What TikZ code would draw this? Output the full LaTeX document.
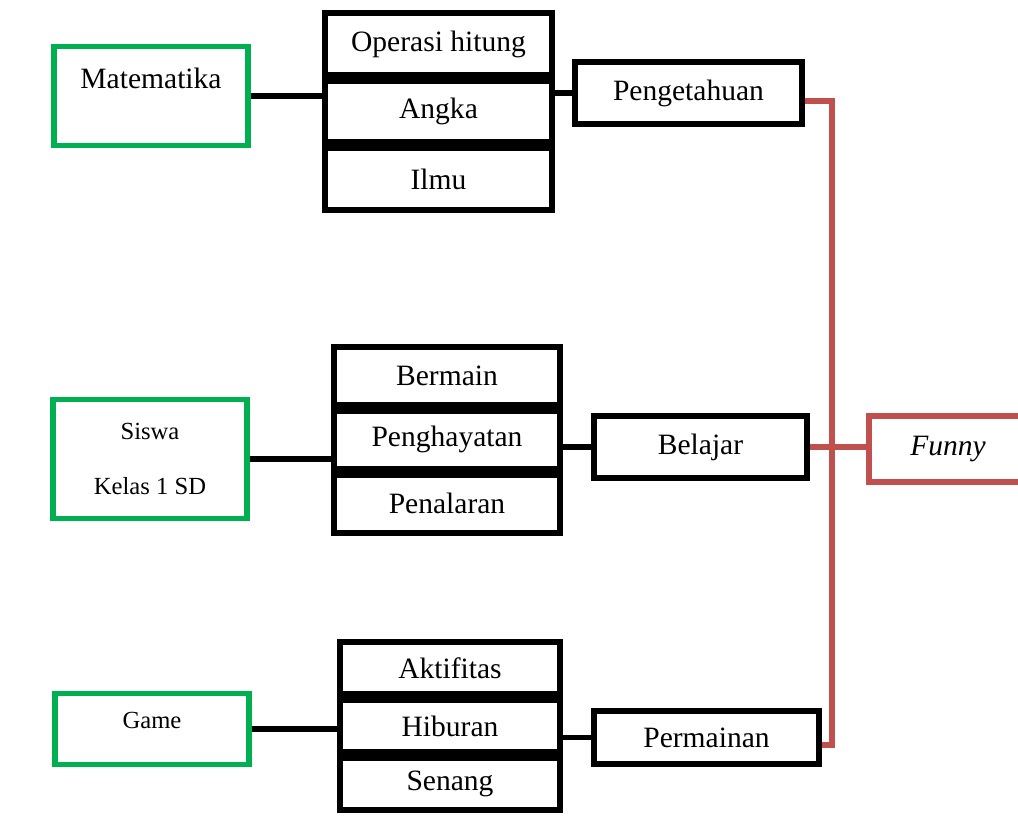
\documentclass[tikz,border=0pt]{standalone}
\usepackage{fontspec}
\setmainfont{Liberation Serif}
\usetikzlibrary{positioning}
\definecolor{boxgreen}{HTML}{00B050}
\definecolor{boxred}{HTML}{C0504D}
\begin{document}
\begin{tikzpicture}[x=0.025cm, y=-0.025cm,
		bbox/.style={draw, line width=4.2pt, rectangle, align=center, font=\fontsize{21}{25}\selectfont},
		gbox/.style={draw=boxgreen, line width=3.6pt, rectangle, align=center, minimum width=4.85cm},
		rbox/.style={draw=boxred, line width=4.2pt, rectangle, align=center, font=\fontsize{21}{25}\selectfont},
		link/.style={line width=4.2pt},
		rlink/.style={draw=boxred, line width=3.6pt},
		node distance = 0pt
		]
	\useasboundingbox (0,0) rectangle (1018,815);
	% left column
	\node [gbox, minimum height=2.475cm, font=\fontsize{21}{25}\selectfont] (mat) at (151,96) {Matematika\\~};
	\node [gbox, minimum height=2.975cm, font=\fontsize{17.5}{21}\selectfont] (sis) at (150,459) {Siswa\\[18pt]Kelas 1 SD};
	\node [gbox, minimum height=1.775cm, text depth=12.5pt, font=\fontsize{17.5}{21}\selectfont] (gam) at (152,729) {Game};
	% middle columns
	\node [bbox, minimum width=5.675cm, minimum height=1.54cm] (ops) at (438.5,44) {Operasi hitung};
	\node [bbox, minimum width=5.675cm, minimum height=1.54cm, below=of ops] (ang) {Angka};
	\node [bbox, minimum width=5.675cm, minimum height=1.54cm, below=of ang] (ilm) {Ilmu};
	\node [bbox, minimum width=5.65cm, minimum height=1.45cm] (brm) at (447,376) {Bermain};
	\node [bbox, minimum width=5.65cm, minimum height=1.45cm, below=of brm] (pgh) {Penghayatan};
	\node [bbox, minimum width=5.65cm, minimum height=1.45cm, below=of pgh] (pnl) {Penalaran};
	\node [bbox, minimum width=5.5cm, minimum height=1.3cm] (akt) at (450,668) {Aktifitas};
	\node [bbox, minimum width=5.5cm, minimum height=1.3cm, below=of akt] (hib) {Hiburan};
	\node [bbox, minimum width=5.5cm, minimum height=1.3cm, below=of hib] (sen) {Senang};
	\node [bbox, minimum width=5.675cm, minimum height=1.55cm] (pen) at (688.5,93) {Pengetahuan};
	\node [bbox, minimum width=5.325cm, minimum height=1.55cm] (bel) at (700.5,447) {Belajar};
	\node [bbox, minimum width=5.625cm, minimum height=1.325cm] (prm) at (706.5,737.5) {Permainan};
	\node [rbox, minimum width=3.95cm, minimum height=1.65cm] (fun) at (948,449) {\itshape Funny};
	% links
	\draw [link] (mat.east) -- (mat.east -| ang.west);
	\draw [link] (pen.west) -- (pen.west -| ang.east);
	\draw [link] (sis.east) -- (sis.east -| pgh.west);
	\draw [link] (bel.west) -- (bel.west -| pgh.east);
	\draw [link] (gam.east) -- (gam.east -| hib.west);
	\draw [link] (prm.west) -- (prm.west -| hib.east);
	\coordinate (rtop) at (832,101);
	\coordinate (rbot) at (832,745);
	\draw [rlink] (pen.east |- rtop) -- (rtop) -- (rbot) -- (prm.east |- rbot);
	\draw [rlink] (bel.east) -- (bel.east -| fun.west);
\end{tikzpicture}
\end{document}
